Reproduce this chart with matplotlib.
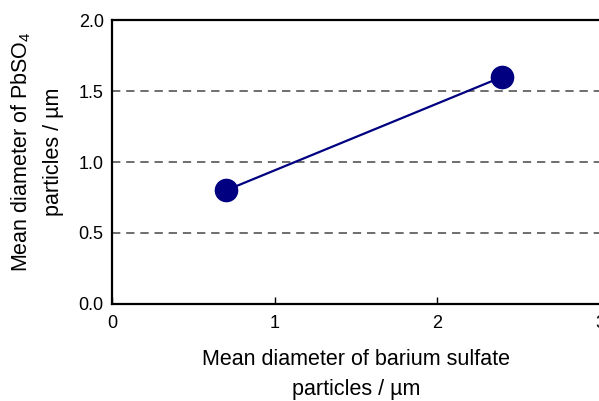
import matplotlib.pyplot as plt

plt.rcParams['font.family'] = ['Liberation Sans', 'DejaVu Sans']
plt.rcParams['mathtext.fontset'] = 'custom'
plt.rcParams['mathtext.rm'] = 'Liberation Sans'
plt.rcParams['mathtext.it'] = 'Liberation Sans'

# mean diameters (µm)
baso4_diam = [0.7, 2.4]
pbso4_diam = [0.8, 1.6]
x_ticks = [0, 1, 2, 3]
y_ticks = [0.0, 0.5, 1.0, 1.5, 2.0]

fig = plt.figure(figsize=(5.99, 4.01), dpi=100)
ax = fig.add_axes([0.187, 0.242, 0.8145, 0.708])

for y in y_ticks[1:-1]:
    ax.axhline(y, color='#555555', lw=1.2, ls=(0, (5, 3.5)), zorder=1)

ax.plot(baso4_diam, pbso4_diam, color='#000080', lw=1.6, marker='o',
        markersize=16, zorder=3, clip_on=False)

ax.set_xlim(0, 3)
ax.set_ylim(0, 2)
ax.set_xticks(x_ticks)
ax.set_yticks(y_ticks)
ax.set_yticklabels([f'{v:.1f}' for v in y_ticks])
ax.tick_params(axis='x', direction='in', length=5, width=1, pad=8, labelsize=13)
ax.tick_params(axis='y', length=0, pad=6, labelsize=13)
for s in ['left', 'bottom', 'top']:
    ax.spines[s].set_linewidth(1.6)
ax.spines['right'].set_visible(False)

ax.set_xlabel('Mean diameter of barium sulfate\nparticles / µm', fontsize=15.5,
              linespacing=1.6, labelpad=12)
ax.set_ylabel('Mean diameter of PbSO$_4$\nparticles / µm', fontsize=15.5,
              linespacing=1.6)
ax.yaxis.set_label_coords(-0.099, 0.535)

fig.savefig('out.png', dpi=100)
